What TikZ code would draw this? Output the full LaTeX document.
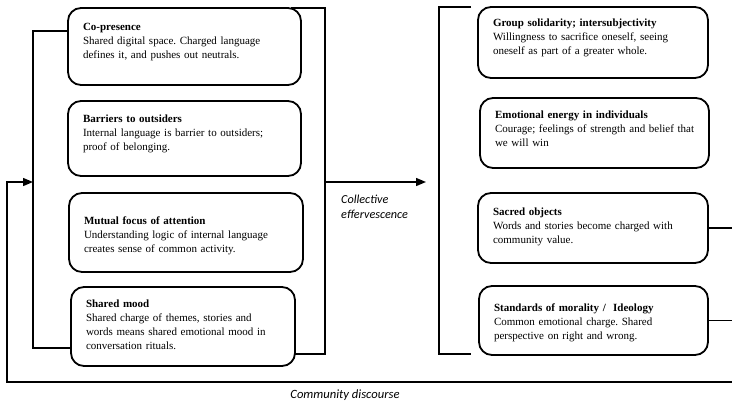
\documentclass[tikz,border=0pt]{standalone}
\usepackage{fontspec}
\setmainfont{Liberation Serif}
\newfontfamily\calibri{Carlito}
\usepackage{tikz}
\usetikzlibrary{calc,arrows.meta}

\tikzset{
  stage/.style={draw, line width=1.8pt, rounded corners=13pt, anchor=north west,
    inner xsep=15pt, inner ysep=0pt, outer sep=0pt, align=left,
    font=\fontsize{11}{14}\selectfont\frenchspacing},
  bracket/.style={line width=1.4pt},
  flow/.style={line width=1.4pt, -{Triangle[length=10pt,width=8pt]}},
  tag/.style={inner sep=0pt, align=left, font=\calibri\itshape\fontsize{12.2}{15}\selectfont}
}

\begin{document}
\begin{tikzpicture}[x=1pt,y=-1pt]
\useasboundingbox (0,0) rectangle (732,400);
% Interaction ritual ingredients
\node[stage, text width=203pt, text height=22pt, text depth=55pt] (cop) at (68,8)
  {\textbf{Co-presence}\\Shared digital space. Charged language\\defines it, and pushes out neutrals.};
\node[stage, text width=203pt, text height=21pt, text depth=54pt] (bar) at (68,101)
  {\textbf{Barriers to outsiders}\\Internal language is barrier to outsiders;\\proof of belonging.};
\node[stage, text width=204pt, text height=31pt, text depth=48pt] (foc) at (69,193)
  {\textbf{Mutual focus of attention}\\Understanding logic of internal language\\creates sense of common activity.};
\node[stage, text width=194pt, text height=20pt, text depth=59pt] (mood) at (71,287)
  {\textbf{Shared mood}\\Shared charge of themes, stories and\\words means shared emotional mood in\\conversation rituals.};
% Ritual outcomes
\node[stage, text width=200pt, text height=19pt, text depth=52pt] (sol) at (478,7)
  {\textbf{Group solidarity; intersubjectivity}\\Willingness to sacrifice oneself, seeing\\oneself as part of a greater whole.};
\node[stage, text width=199pt, text height=20pt, text depth=50pt] (ener) at (480,98)
  {\textbf{Emotional energy in individuals}\\\mbox{Courage; feelings of strength and belief that}\\we will win};
\node[stage, text width=200pt, text height=22pt, text depth=48pt] (sac) at (478,193)
  {\textbf{Sacred objects}\\Words and stories become charged with\\community value.};
\node[stage, text width=199pt, text height=25pt, text depth=44pt] (std) at (479,286)
  {\textbf{Standards of morality /\ \ Ideology}\\Common emotional charge. Shared\\perspective on right and wrong.};
% Labels
\node[tag, anchor=north west] (eff) at (341,195) {Collective\\effervescence};
\node[tag, anchor=base, font=\calibri\itshape\fontsize{12.6}{15}\selectfont] (disc) at (345,398) {Community discourse};
% Brackets and arrows
\coordinate (lt) at (33,31);
\coordinate (lb) at (33,348);
\coordinate (rt) at (325,8);
\coordinate (rb) at (325,354);
\coordinate (ce) at (325,182);
\coordinate (cetip) at (426,182);
\coordinate (qt) at (439,7);
\coordinate (qb) at (439,354);
\coordinate (edge) at (732,0);
\coordinate (cr) at (732,382);
\coordinate (cl) at (7,382);
\draw[bracket] (cop.west |- lt) -- (lt) -- (lb) -- (mood.west |- lb);
\draw[bracket] ($(cop.north east)+(-10,0)$) -- (rt) -- (rb) -- (rb -| mood.east);
\draw[flow] (ce) -- (cetip);
\draw[bracket] ($(sol.north west)+(-7,0)$) -- (qt) -- (qb) -- ($(std.west |- qb)+(-8,0)$);
\draw[bracket] (sac.east) -- (sac.east -| edge);
\draw[bracket] (std.east) -- (std.east -| edge);
\draw[flow] (cr) -- (cl) |- (lt |- ce);
\end{tikzpicture}
\end{document}
